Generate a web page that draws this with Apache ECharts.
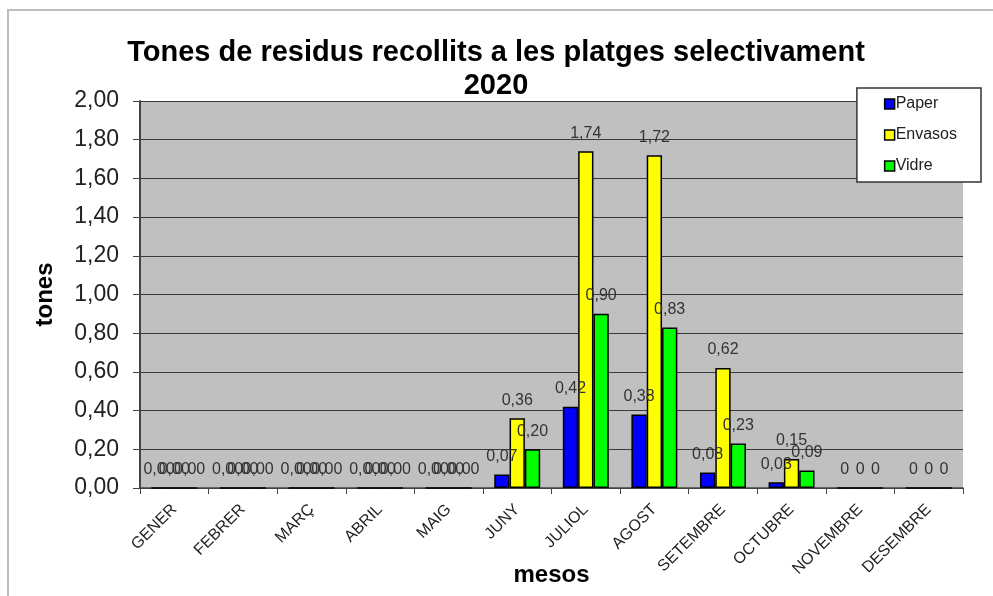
<!DOCTYPE html>
<html>
<head>
<meta charset="utf-8">
<script src="https://cdn.jsdelivr.net/npm/echarts@6/dist/echarts.min.js"></script>
<style>
  html, body { margin: 0; padding: 0; background: #ffffff; }
  #chart { width: 993px; height: 596px; }
</style>
</head>
<body>
<div id="chart"></div>
<script>
const months = ['GENER', 'FEBRER', 'MARÇ', 'ABRIL', 'MAIG', 'JUNY', 'JULIOL', 'AGOST', 'SETEMBRE', 'OCTUBRE', 'NOVEMBRE', 'DESEMBRE']
const paper = [0, 0, 0, 0, 0, 0.07, 0.42, 0.38, 0.08, 0.03, 0, 0]
const envasos = [0, 0, 0, 0, 0, 0.36, 1.74, 1.72, 0.62, 0.15, 0, 0]
const vidre = [0, 0, 0, 0, 0, 0.20, 0.90, 0.83, 0.23, 0.09, 0, 0]
// decimals shown in each month's labels (Nov/Dec were shown as plain "0")
const labelDecimals = [2, 2, 2, 2, 2, 2, 2, 2, 2, 2, 0, 0]
const yTicks = [0, 0.2, 0.4, 0.6, 0.8, 1.0, 1.2, 1.4, 1.6, 1.8, 2.0]

const fmt = (v, d) => v.toFixed(d).replace('.', ',')
const FONT = '"Liberation Sans", Arial, sans-serif'

const makeSeries = (name, values, color) => ({
  name,
  type: 'bar',
  data: values,
  barGap: '0%',
  barCategoryGap: '33%',
  itemStyle: { color, borderColor: '#000', borderWidth: 1.5 },
  label: {
    show: true,
    position: 'top',
    distance: 10,
    fontFamily: FONT,
    fontSize: 16,
    color: '#333',
    formatter: p => fmt(p.value, labelDecimals[p.dataIndex])
  }
})

const chart = echarts.init(document.getElementById('chart'))
chart.setOption({
  animation: false,
  backgroundColor: '#ffffff',
  textStyle: { fontFamily: FONT },
  graphic: [{
    type: 'rect',
    shape: { x: 8, y: 10, width: 1000, height: 600 },
    style: { fill: 'none', stroke: '#bdbdbd', lineWidth: 2 },
    silent: true
  }],
  title: {
    text: 'Tones de residus recollits a les platges selectivament\n2020',
    left: 491,
    textAlign: 'center',
    top: 31,
    textStyle: { fontFamily: FONT, fontSize: 29, fontWeight: 'bold', color: '#000', lineHeight: 33 }
  },
  legend: {
    orient: 'vertical',
    right: 12,
    top: 88,
    width: 120,
    padding: [8, 24, 8, 27],
    itemGap: 15,
    itemWidth: 10,
    itemHeight: 10,
    backgroundColor: '#fff',
    borderColor: '#333',
    borderWidth: 1.5,
    borderRadius: 0,
    icon: 'rect',
    itemStyle: { borderColor: '#000', borderWidth: 1.5 },
    textStyle: { fontFamily: FONT, fontSize: 16, color: '#222', padding: [0, 0, 0, -4] },
    data: ['Paper', 'Envasos', 'Vidre']
  },
  grid: {
    left: 140, right: 30, top: 101, bottom: 108,
    outerBoundsMode: 'none', containLabel: false,
    show: true, backgroundColor: '#c0c0c0', borderWidth: 0
  },
  xAxis: {
    type: 'category',
    data: months,
    name: 'mesos',
    nameLocation: 'middle',
    nameGap: 75,
    nameMoveOverlap: false,
    nameTextStyle: { fontFamily: FONT, fontSize: 24, fontWeight: 'bold', color: '#000' },
    axisLine: { lineStyle: { color: '#444', width: 1.5 } },
    axisTick: { show: true, length: 6, lineStyle: { color: '#444' } },
    axisLabel: { rotate: 45, fontFamily: FONT, fontSize: 16, color: '#222', margin: 19 }
  },
  yAxis: {
    type: 'value',
    min: yTicks[0],
    max: yTicks[yTicks.length - 1],
    interval: 0.2,
    name: 'tones',
    nameLocation: 'middle',
    nameGap: 83,
    nameTextStyle: { fontFamily: FONT, fontSize: 24, fontWeight: 'bold', color: '#000' },
    axisLine: { show: true, lineStyle: { color: '#444', width: 2 } },
    axisTick: { show: true, inside: false, length: 7, lineStyle: { color: '#444' } },
    axisLabel: { fontFamily: FONT, fontSize: 23, color: '#222', margin: 21, formatter: v => fmt(v, 2) },
    splitLine: { show: true, lineStyle: { color: '#3a3a3a', width: 1.2 } }
  },
  series: [
    makeSeries('Paper', paper, '#0000ff'),
    makeSeries('Envasos', envasos, '#ffff00'),
    makeSeries('Vidre', vidre, '#00ff00')
  ]
})
</script>
</body>
</html>
